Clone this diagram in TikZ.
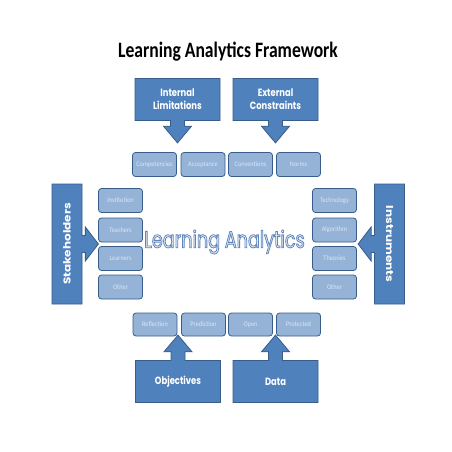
\documentclass[tikz,border=0pt]{standalone}
\usepackage{fontspec}
\usepackage{graphicx}
\usetikzlibrary{shapes.arrows}
\newfontfamily\titlefont{Carlito}[FakeStretch=0.8]
\newfontfamily\boxfont{Poppins}[FakeStretch=0.8]
\newfontfamily\sidefont{Poppins}[FakeStretch=1.2]
\newfontfamily\itemfont{Carlito}[FakeStretch=0.9]
\newfontfamily\centerfont{Poppins}[FakeStretch=0.75]
\definecolor{bluemid}{HTML}{4F81BD}
\definecolor{bluedark}{HTML}{385D8A}
\definecolor{bluelight}{HTML}{95B3D7}
\definecolor{bluepale}{HTML}{DCE6F2}
\definecolor{bluewash}{HTML}{F2F6FB}
\newcommand{\outlined}[1]{\special{pdf:literal direct 0.38 0.52 0.74 RG 0.8 w 2 Tr}#1\special{pdf:literal direct 0 Tr}}
\tikzset{
  callout/.style={arrow box, draw=bluedark, fill=bluemid, line width=0.8pt, text=white,
    inner sep=0pt, align=center, font=\boxfont\bfseries\fontsize{10.5}{13}\selectfont,
    arrow box north arrow=0pt, arrow box south arrow=0pt,
    arrow box east arrow=0pt, arrow box west arrow=0pt},
  vcallout/.style={callout, minimum width=85pt, minimum height=42pt,
    arrow box shaft width=14pt, arrow box head extend=7pt, arrow box tip angle=80},
  hcallout/.style={callout, minimum width=30pt, minimum height=120pt,
    arrow box shaft width=17pt, arrow box head extend=8.5pt, arrow box tip angle=105},
  item/.style={draw=bluedark, fill=bluelight, rounded corners=3pt, line width=0.8pt,
    minimum width=44pt, minimum height=24pt, inner sep=0pt, text=bluepale,
    font=\itemfont\fontsize{7}{8}\selectfont}
}
\begin{document}
\begin{tikzpicture}[x=1pt,y=-1pt]
\path[fill=white] (0,0) rectangle (452,452);
\node (title) at (228,52) {\titlefont\bfseries\fontsize{22}{24}\selectfont Learning Analytics Framework};
\node[vcallout, arrow box arrows={south:22pt from border}] (intl) at (177.5,99.5) {Internal\\Limitations};
\node[vcallout, arrow box arrows={south:22pt from border}] (extc) at (275.5,99.5) {External\\Constraints};
\node[item] (comp) at (154.5,164.5) {Competencies};
\node[item] (acpt) at (203,164.5) {Acceptance};
\node[item] (conv) at (250.5,164.5) {Conventions};
\node[item] (norm) at (298.5,164.5) {Norms};
\node[hcallout, arrow box arrows={east:16pt from border}] (stake) at (67,244) {\rotatebox{90}{\sidefont\bfseries\fontsize{10}{11}\selectfont Stakeholders}};
\node[item] (inst) at (120.5,200.5) {Institution};
\node[item] (teach) at (120.5,230) {Teachers};
\node[item] (learn) at (120.5,258.5) {Learners};
\node[item] (oth) at (120.5,287) {Other};
\node[hcallout, arrow box arrows={west:16pt from border}] (instr) at (389.5,244) {\rotatebox{-90}{\sidefont\bfseries\fontsize{10}{11}\selectfont Instruments}};
\node[item] (tech) at (334.5,200.5) {Technology};
\node[item] (algo) at (334.5,230) {Algorithm};
\node[item] (theo) at (334.5,258.5) {Theories};
\node[item] (othr) at (334.5,287) {Other};
\node[text=bluewash] (la) at (224.5,242) {\centerfont\fontsize{23.5}{26}\selectfont\outlined{Learning Analytics}};
\node[item, minimum height=23pt] (refl) at (155,324.5) {Reflection};
\node[item, minimum height=23pt] (pred) at (203.5,324.5) {Prediction};
\node[item, minimum height=23pt] (open) at (250.5,324.5) {Open};
\node[item, minimum height=23pt] (prot) at (298.5,324.5) {Protected};
\node[vcallout, arrow box arrows={north:25pt from border}] (objc) at (178,381.5) {Objectives};
\node[vcallout, arrow box arrows={north:25pt from border}] (data) at (275.5,381.5) {Data};
\end{tikzpicture}
\end{document}
